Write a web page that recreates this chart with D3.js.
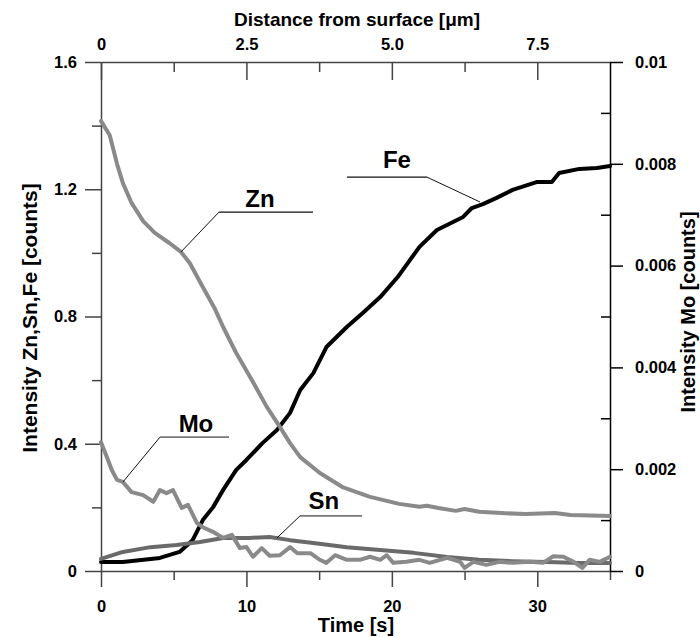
<!DOCTYPE html>
<html><head><meta charset="utf-8">
<script src="https://cdn.jsdelivr.net/npm/d3@7"></script>
<style>
html,body{margin:0;padding:0;background:#fff;}
svg{display:block;font-family:"Liberation Sans",Arial,sans-serif;font-weight:bold;}
</style></head><body>
<svg id="c" width="700" height="637"></svg>
<script>
// ---- data ----
const znTime = [0, 0.6, 1.1, 1.5, 2.1, 2.9, 3.7, 4.7, 5.5, 6.1, 7.0, 7.8, 8.4, 9.3, 10.5, 11.4, 12.3, 13.0, 13.7, 15.05, 16.6, 18.5, 20.5, 21.9, 22.4, 23.2, 24.4, 25.0, 26.0, 27.5, 29.2, 31.2, 32.3, 35];
const znValues = [1.415, 1.37, 1.28, 1.22, 1.157, 1.10, 1.063, 1.031, 1.003, 0.968, 0.893, 0.827, 0.767, 0.685, 0.59, 0.516, 0.453, 0.402, 0.358, 0.308, 0.264, 0.233, 0.211, 0.202, 0.205, 0.198, 0.189, 0.195, 0.186, 0.182, 0.179, 0.182, 0.176, 0.173];

const feTime = [0, 1.5, 4.05, 5.4, 6.3, 7.0, 7.7, 8.4, 9.3, 10.0, 11.1, 12.1, 13.0, 13.7, 14.6, 15.5, 16.9, 18.0, 19.2, 20.4, 21.9, 23.1, 24.9, 25.5, 26.3, 27.2, 28.3, 30.0, 31.0, 31.5, 32.9, 34.1, 35];
const feValues = [0.028, 0.028, 0.041, 0.06, 0.097, 0.16, 0.2, 0.255, 0.318, 0.349, 0.402, 0.443, 0.497, 0.569, 0.622, 0.704, 0.767, 0.811, 0.861, 0.924, 1.019, 1.072, 1.113, 1.141, 1.154, 1.173, 1.198, 1.223, 1.223, 1.251, 1.264, 1.267, 1.273];

const snTime = [0, 1.5, 3.4, 5.2, 6.8, 8.4, 10.2, 11.6, 13.0, 14.6, 16.9, 19.2, 21.5, 23.8, 26.0, 28.3, 30.7, 32.9, 35];
const snValues = [0.038, 0.06, 0.075, 0.082, 0.091, 0.104, 0.104, 0.107, 0.097, 0.088, 0.075, 0.066, 0.057, 0.044, 0.035, 0.031, 0.028, 0.025, 0.025];

const moTime = [0, 0.4, 0.75, 1.1, 1.5, 2.1, 2.9, 3.6, 4.05, 4.5, 4.95, 5.55, 5.98, 6.6, 7.0, 7.7, 8.4, 9.0, 9.55, 10.0, 10.45, 11.05, 11.6, 12.3, 13.0, 13.5, 14.4, 15.05, 15.5, 16.1, 16.9, 17.8, 18.5, 19.2, 19.65, 20.1, 21.0, 21.9, 22.6, 23.8, 24.7, 25.0, 25.6, 26.5, 27.4, 28.3, 29.5, 30.4, 31.1, 31.8, 32.5, 33.1, 33.6, 34.3, 35.0];
const moValues = [0.00253, 0.00224, 0.00198, 0.00179, 0.00175, 0.00155, 0.00149, 0.00136, 0.00159, 0.00153, 0.00159, 0.00124, 0.0013, 0.00094, 0.00086, 0.00077, 0.00065, 0.00071, 0.00045, 0.00047, 0.00028, 0.00045, 0.0003, 0.00031, 0.00047, 0.00035, 0.00035, 0.00022, 0.00016, 0.00031, 0.00022, 0.00022, 0.00028, 0.00022, 0.00031, 0.00016, 0.00018, 0.00022, 0.00016, 0.00026, 0.00018, 0.00006, 0.00018, 0.00012, 0.00018, 0.00016, 0.00018, 0.00016, 0.00029, 0.00028, 0.00018, 0.00006, 0.00022, 0.00018, 0.00028];

const timeTicks = [0, 10, 20, 30];
const timeMinorTicks = [5, 15, 25, 35];
const distTicks = [0, 2.5, 5.0, 7.5];
const distMinorTicks = [1.25, 3.75, 6.25];
const leftTicks = [0, 0.4, 0.8, 1.2, 1.6];
const leftMinorTicks = [0.2, 0.6, 1.0, 1.4];
const rightTicks = [0, 0.002, 0.004, 0.006, 0.008, 0.01];
const rightMinorTicks = [0.001, 0.003, 0.005, 0.007, 0.009];

// annotations in data units (time, left intensity): tip, elbow, end, label
const annNames = ["Zn", "Mo", "Sn", "Fe"];
const annTip = [[5.5, 1.003], [1.51, 0.280], [12.1, 0.104], [26.06, 1.160]];
const annElbow = [[8.11, 1.128], [4.06, 0.421], [13.68, 0.173], [22.42, 1.238]];
const annEnd = [[14.58, 1.128], [8.8, 0.421], [17.95, 0.173], [16.92, 1.238]];
const annLabel = [[10.93, 1.144], [6.53, 0.437], [15.33, 0.195], [20.35, 1.267]];

// ---- chart ----
const svg = d3.select("#c");
const L = 101, R = 610, T = 62, B = 571;
const x = d3.scaleLinear().domain([0, 35]).range([L, R]);
const xTop = d3.scaleLinear().domain([0, 8.75]).range([L, R]);
const yL = d3.scaleLinear().domain([0, 1.6]).range([B, T]);
const yR = d3.scaleLinear().domain([0, 0.01]).range([B, T]);

const axisColor = "#444";
function styleAxis(g, color) {
  g.selectAll("path.domain").attr("stroke", color).attr("stroke-width", 1.5);
  g.selectAll(".tick line").attr("stroke", color).attr("stroke-width", 1.5);
  g.selectAll(".tick text").attr("fill", "#000").style("font-size", "16.5px").style("font-weight", "bold")
    .attr("font-family", "'Liberation Sans', Arial, sans-serif");
}

// minor ticks
svg.append("g").attr("transform", `translate(${L},0)`)
  .call(d3.axisLeft(yL).tickValues(leftMinorTicks).tickSize(9).tickFormat(""))
  .call(g => { g.select(".domain").remove(); styleAxis(g, axisColor); });
svg.append("g").attr("transform", `translate(0,${B})`)
  .call(d3.axisBottom(x).tickValues(timeMinorTicks).tickSize(9).tickFormat(""))
  .call(g => { g.select(".domain").remove(); styleAxis(g, axisColor); });
svg.append("g").attr("transform", `translate(0,${T})`)
  .call(d3.axisTop(xTop).tickValues(distMinorTicks).tickSize(-10).tickFormat(""))
  .call(g => { g.select(".domain").remove(); styleAxis(g, axisColor); });
svg.append("g").attr("transform", `translate(${R},0)`)
  .call(d3.axisRight(yR).tickValues(rightMinorTicks).tickSize(-9).tickFormat(""))
  .call(g => { g.select(".domain").remove(); styleAxis(g, "#000"); });

// major axes
svg.append("g").attr("transform", `translate(${L},0)`)
  .call(d3.axisLeft(yL).tickValues(leftTicks).tickSize(16).tickSizeOuter(0).tickPadding(8)
    .tickFormat(d => String(+d.toFixed(1))))
  .call(g => styleAxis(g, axisColor));
svg.append("g").attr("transform", `translate(0,${B})`)
  .call(d3.axisBottom(x).tickValues(timeTicks).tickSize(16).tickSizeOuter(0).tickPadding(13)
    .tickFormat(d => String(d)))
  .call(g => styleAxis(g, axisColor));
svg.append("g").attr("transform", `translate(0,${T})`)
  .call(d3.axisTop(xTop).tickValues(distTicks).tickSize(-18).tickSizeOuter(0).tickPadding(12)
    .tickFormat(d => d === 0 ? "0" : d.toFixed(1)))
  .call(g => styleAxis(g, axisColor));
svg.append("g").attr("transform", `translate(${R},0)`)
  .call(d3.axisRight(yR).tickValues(rightTicks).tickSize(13).tickSizeOuter(0).tickPadding(12)
    .tickFormat(d => d === 0 ? "0" : String(+d.toFixed(3))))
  .call(g => styleAxis(g, "#000"));

// series
function drawSeries(times, vals, yScale, color, width) {
  const pts = times.map((t, i) => [t, vals[i]]);
  svg.append("path")
    .attr("d", d3.line().x(d => x(d[0])).y(d => yScale(d[1]))(pts))
    .attr("fill", "none").attr("stroke", color).attr("stroke-width", width)
    .attr("stroke-linejoin", "round").attr("stroke-linecap", "round");
}
drawSeries(feTime, feValues, yL, "#000", 4);
drawSeries(snTime, snValues, yL, "#6a6a6a", 4);
drawSeries(moTime, moValues, yR, "#8a8a8a", 4);
drawSeries(znTime, znValues, yL, "#8a8a8a", 4);

// annotations
annNames.forEach((name, i) => {
  const gray = (name === "Mo" || name === "Sn");
  svg.append("line")
    .attr("x1", x(annTip[i][0])).attr("y1", yL(annTip[i][1]))
    .attr("x2", x(annElbow[i][0])).attr("y2", yL(annElbow[i][1]))
    .attr("stroke", "#111").attr("stroke-width", 1);
  svg.append("line")
    .attr("x1", x(annElbow[i][0])).attr("y1", yL(annElbow[i][1]))
    .attr("x2", x(annEnd[i][0])).attr("y2", yL(annEnd[i][1]))
    .attr("stroke", gray ? "#777" : "#111").attr("stroke-width", gray ? 1.8 : 1.2);
  svg.append("text")
    .attr("x", x(annLabel[i][0])).attr("y", yL(annLabel[i][1]))
    .attr("text-anchor", "middle").style("font-size", "24px").text(name);
});

// titles
svg.append("text").attr("x", 357).attr("y", 26).attr("text-anchor", "middle")
  .style("font-size", "19px").text("Distance from surface [μm]");
svg.append("text").attr("x", 356).attr("y", 632).attr("text-anchor", "middle")
  .style("font-size", "20px").text("Time [s]");
svg.append("text").attr("transform", "translate(37,318) rotate(-90)").attr("text-anchor", "middle")
  .style("font-size", "21px").text("Intensity Zn,Sn,Fe [counts]");
svg.append("text").attr("transform", "translate(695,312) rotate(-90)").attr("text-anchor", "middle")
  .style("font-size", "20px").text("Intensity Mo [counts]");
</script>
</body></html>
